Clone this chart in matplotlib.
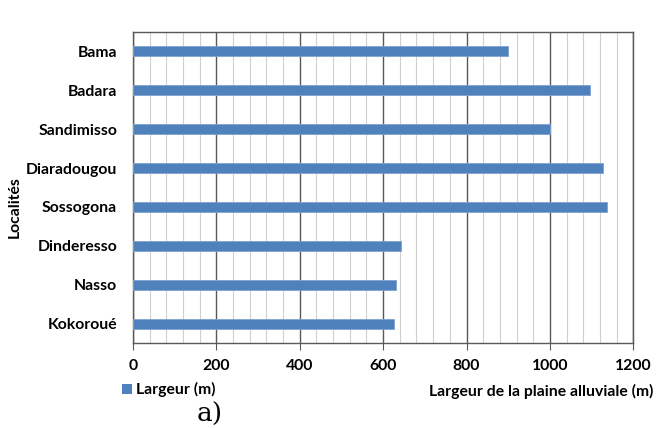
import matplotlib
matplotlib.use("Agg")
import matplotlib.pyplot as plt
from matplotlib.ticker import MultipleLocator
from matplotlib.patches import Rectangle

localites = ["Bama", "Badara", "Sandimisso", "Diaradougou", "Sossogona",
             "Dinderesso", "Nasso", "Kokoroué"]
largeur = [900, 1095, 1000, 1128, 1137, 644, 631, 626]
x_ticks = [0, 200, 400, 600, 800, 1000, 1200]

plt.rcParams["font.family"] = ["Lato", "DejaVu Sans"]
FS = 11.3

fig = plt.figure(figsize=(6.57, 4.28), dpi=100)
ax = fig.add_axes([0.2024, 0.1979, 0.7615, 0.728])

n = len(localites)
ypos = list(range(n))[::-1]
ax.barh(ypos, largeur, height=0.26, color="#4F81BD", edgecolor="#7FA2D0",
        linewidth=0.6, zorder=3)

ax.set_xlim(0, 1200)
ax.set_ylim(-0.5, n - 0.5)
ax.set_xticks(x_ticks)
ax.xaxis.set_minor_locator(MultipleLocator(40))
ax.set_yticks(ypos)
ax.set_yticklabels(localites)

ax.grid(which="major", axis="x", color="#595959", linewidth=1.0, zorder=0)
ax.grid(which="minor", axis="x", color="#D0D0D0", linewidth=0.8, zorder=0)
ax.set_axisbelow(True)

for s in ax.spines.values():
    s.set_color("#595959")
    s.set_linewidth(1.0)

ax.tick_params(axis="x", which="major", length=5, color="#595959",
               labelsize=FS, pad=6)
ax.tick_params(axis="x", which="minor", length=0)
ax.tick_params(axis="y", length=0, labelsize=FS, pad=11.5)
for lbl in ax.get_xticklabels() + ax.get_yticklabels():
    lbl.set_fontweight("bold")

fig.text(15 / 657, 1 - 207 / 428, "Localités", rotation=90, ha="center",
         va="center", fontsize=FS, fontweight="bold")

# legend entry
fig.patches.append(Rectangle((122 / 657, 1 - 394 / 428), 10 / 657, 10 / 428,
                             transform=fig.transFigure, facecolor="#4F81BD",
                             edgecolor="none"))
fig.text(136 / 657, 1 - 389 / 428, "Largeur (m)", ha="left", va="center",
         fontsize=FS, fontweight="bold")

fig.text(653 / 657, 1 - 391 / 428, "Largeur de la plaine alluviale (m)",
         ha="right", va="center", fontsize=FS, fontweight="bold")

fig.text(210 / 657, 1 - 414 / 428, "a)", ha="center", va="center",
         fontsize=19, family=["DejaVu Serif"])

fig.savefig("out.png", dpi=100, facecolor="white")
